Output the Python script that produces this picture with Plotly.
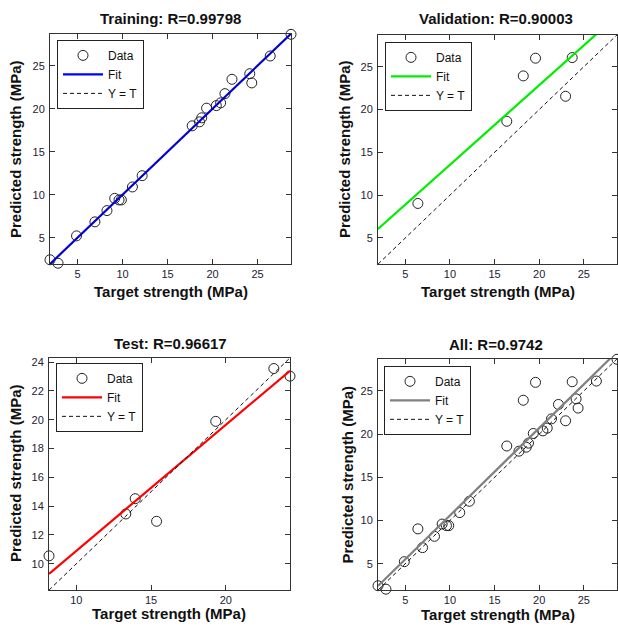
import numpy as np
import plotly.graph_objects as go

# ---------------- data ----------------
train_target = [1.94, 2.83, 4.89, 6.93, 8.27, 9.13, 9.61, 9.87, 11.10, 12.18,
                17.74, 18.55, 18.80, 19.34, 20.42, 20.90, 21.38, 22.16, 24.14,
                24.36, 26.41, 28.72]
train_output = [2.45, 2.05, 5.23, 6.86, 8.17, 9.59, 9.41, 9.41, 10.92, 12.23,
                18.03, 18.49, 18.96, 20.08, 20.38, 20.70, 21.77, 23.44, 24.09,
                23.02, 26.15, 28.67]

val_target = [6.41, 16.37, 18.22, 19.59, 22.96, 23.70]
val_output = [9.03, 18.63, 23.93, 26.00, 21.55, 26.07]

test_target = [8.17, 13.31, 13.94, 15.37, 19.33, 23.22, 24.30]
test_output = [10.55, 13.46, 14.52, 12.95, 19.89, 23.56, 23.03]

all_target = train_target + val_target
all_output = train_output + val_output

panel_names = ["Training", "Validation", "Test", "All"]
r_values = ["0.99798", "0.90003", "0.96617", "0.9742"]
fit_colors = ["#0000FF", "#00EE00", "#FF0000", "#808080"]

main_ticks = [5, 10, 15, 20, 25]
test_xticks = [10, 15, 20]
test_yticks = [10, 12, 14, 16, 18, 20, 22, 24]

x_title = "Target strength (MPa)"
y_title = "Predicted strength (MPa)"

# ---------------- figure ----------------
W, H = 618, 628
FONT = "Liberation Sans, Arial, sans-serif"


def px_x(p):
    return p / W


def px_y(p):
    return 1 - p / H


# axes boxes in pixels: (left, right, top, bottom)
boxes = [(50, 291, 32, 263), (378, 617, 33, 263),
         (49, 290, 357, 590), (378, 617, 358, 590)]
legend_pos = [(57, 38), (385, 40), (56, 362), (384, 365)]
title_pos = [(170.5, 16.5), (496, 16.5), (170, 343), (496, 344)]
xlab_pos = [(171, 290), (497.5, 290.5), (169, 613.5), (497.5, 614.5)]
ylab_pos = [(15.5, 148), (344.5, 148), (15.5, 473), (347, 474)]

datasets = [
    (train_target, train_output),
    (val_target, val_output),
    (test_target, test_output),
    (all_target, all_output),
]

# axis limits: combined range for train/val/all panels, own range for test
comb = train_target + train_output + val_target + val_output
lim_main = [min(comb), max(comb)]
lim_test = [min(test_target + test_output), max(test_target + test_output)]
limits = [lim_main, lim_main, lim_test, lim_main]
xticks = [main_ticks, main_ticks, test_xticks, main_ticks]
yticks = [main_ticks, main_ticks, test_yticks, main_ticks]

fig = go.Figure()
layout = dict(
    width=W, height=H,
    margin=dict(l=0, r=0, t=0, b=0),
    paper_bgcolor="white", plot_bgcolor="white",
    font=dict(family=FONT, color="#111111"),
    annotations=[],
)

for i, ((t, y), lim) in enumerate(zip(datasets, limits)):
    k = "" if i == 0 else str(i + 1)
    xa, ya = "x" + k, "y" + k
    lg = "legend" + k
    t = np.array(t)
    y = np.array(y)
    m, b = np.polyfit(t, y, 1)
    xs = np.array(lim)

    fig.add_trace(go.Scatter(
        x=t, y=y, mode="markers", name="Data", xaxis=xa, yaxis=ya, legend=lg,
        marker=dict(symbol="circle-open", size=10, color="#222222",
                    line=dict(width=1, color="#222222")),
        cliponaxis=False))
    fig.add_trace(go.Scatter(
        x=xs, y=m * xs + b, mode="lines", name="Fit", xaxis=xa, yaxis=ya,
        legend=lg, line=dict(color=fit_colors[i], width=2.2)))
    fig.add_trace(go.Scatter(
        x=xs, y=xs, mode="lines", name="Y = T", xaxis=xa, yaxis=ya,
        legend=lg, line=dict(color="#111111", width=1, dash="4px,3px")))

    left, right, top, bottom = boxes[i]
    axis_common = dict(
        showgrid=False, zeroline=False, showline=True, linecolor="#333333",
        linewidth=1, mirror="ticks", ticks="inside", ticklen=5,
        tickcolor="#333333", tickfont=dict(size=11, family=FONT, color="#222233"),
        range=lim, fixedrange=True,
    )
    layout["xaxis" + k] = dict(axis_common, domain=[px_x(left), px_x(right)],
                               anchor=ya, tickvals=xticks[i])
    layout["yaxis" + k] = dict(axis_common, domain=[px_y(bottom), px_y(top)],
                               anchor=xa, tickvals=yticks[i],
                               ticklabelstandoff=2)

    lx, ly = legend_pos[i]
    layout[lg] = dict(
        x=px_x(lx), y=px_y(ly), xanchor="left", yanchor="top",
        bordercolor="#222222", borderwidth=1, bgcolor="white",
        font=dict(size=12, family=FONT, color="#111111"),
        itemwidth=40, tracegroupgap=0,
    )

    tx, ty = title_pos[i]
    layout["annotations"].append(dict(
        text=f"{panel_names[i]}: R={r_values[i]}", x=px_x(tx), y=px_y(ty),
        xref="paper", yref="paper", showarrow=False, xanchor="center",
        yanchor="middle",
        font=dict(size=15, family=FONT, color="#111111", weight="bold")))
    bx, by = xlab_pos[i]
    layout["annotations"].append(dict(
        text=x_title, x=px_x(bx), y=px_y(by), xref="paper", yref="paper",
        showarrow=False, xanchor="center", yanchor="middle",
        font=dict(size=15, family=FONT, color="#111111", weight="bold")))
    cx, cy = ylab_pos[i]
    layout["annotations"].append(dict(
        text=y_title, x=px_x(cx), y=px_y(cy), xref="paper", yref="paper",
        showarrow=False, xanchor="center", yanchor="middle", textangle=-90,
        font=dict(size=15, family=FONT, color="#111111", weight="bold")))

fig.update_layout(**layout)
fig.write_html(
    "out.html",
    config={"displayModeBar": False},
    post_script="document.body.style.margin='0';"
                "document.body.style.overflow='hidden';",
)
